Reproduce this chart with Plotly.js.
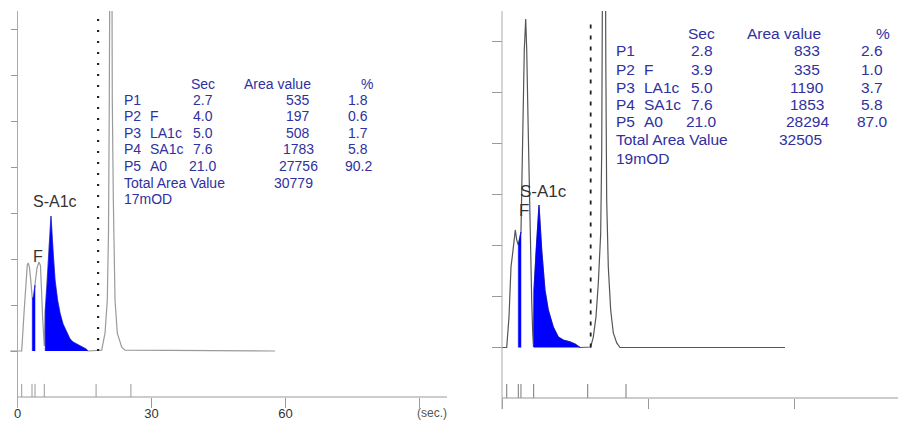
<!DOCTYPE html>
<html>
<head>
<meta charset="utf-8">
<script src="https://cdn.plot.ly/plotly-3.0.1.min.js"></script>
<style>html,body{margin:0;padding:0;background:#fff;}#chart{width:898px;height:421px;}</style>
</head>
<body>
<div id="chart"></div>
<script>
// ---------------- DATA ----------------
// Left chromatogram (time in sec, signal in mOD)
const leftTime   = [-1.68, 0.94, 1.46, 1.90, 2.19, 2.42, 2.69, 2.96, 3.31, 3.58, 3.92, 4.37, 4.82, 5.15, 5.64, 6.00,
                    6.20, 6.61, 7.05, 7.50, 7.95, 8.40, 8.96, 9.52, 10.19, 11.09, 11.76, 12.43, 13.33, 14.00, 14.67, 15.34, 15.79,
                    18.86, 19.60, 20.11, 20.38, 20.56, 20.96, 21.23, 21.46, 21.84, 22.35, 23.34, 24.08, 57.67];
const leftSignal = [0, 0, 1.65, 3.22, 3.74, 3.83, 3.61, 3.09, 2.30, 2.35, 2.87, 3.61, 3.87, 3.70, 1.43, 0.22,
                    1.70, 2.87, 4.39, 5.87, 4.39, 3.09, 2.22, 1.65, 1.17, 0.78, 0.52, 0.39, 0.30, 0.26, 0.17, 0.09, 0,
                    0.04, 0.78, 2.22, 5.13, 10.9, 30.0, 10.9, 6.57, 2.22, 0.78, 0.17, 0.04, 0];
const leftFilled  = [[3.31, 3.92], [6.20, 15.79]];
const leftMarkers = [0.94, 3.25, 3.92, 6.00, 17.6, 25.4];
const leftCutTime = 18.05;
const leftCutTop  = 14.74;

// Right chromatogram
const rightTime   = [-2.05, 0.97, 1.44, 1.85, 2.20, 2.53, 2.73, 3.02, 3.35, 3.90, 4.25, 4.58, 4.87, 5.08, 5.40, 5.75, 6.10, 6.31, 6.47,
                     6.57, 6.99, 7.60, 8.16, 8.83, 9.51, 10.54, 11.57, 12.60, 13.97, 15.00, 16.03,
                     18.22, 18.76, 19.31, 19.79, 20.28, 20.49, 20.65, 21.00, 21.33, 21.51, 21.84, 22.33, 22.87, 23.57, 24.25, 58.15];
const rightSignal = [0, 0, 1.20, 3.16, 3.71, 4.49, 4.61, 4.22, 4.02, 4.53, 9.04, 11.67, 12.88, 11.67, 8.41, 4.49, 1.86, 0.57, 0.02,
                     2.25, 3.82, 5.59, 3.82, 2.25, 1.47, 0.80, 0.41, 0.29, 0.22, 0.14, 0,
                     0.02, 0.41, 1.20, 2.53, 4.49, 7.75, 11.27, 30.0, 11.27, 5.78, 3.16, 1.47, 0.57, 0.18, 0, 0];
const rightFilled  = [[3.35, 3.90], [6.57, 16.03]];
const rightMarkers = [0.97, 3.35, 3.90, 6.51, 17.61, 25.48];
const rightCutTime = 18.22;
const rightCutTop  = 12.78;

// Tables
const peakIds   = ['P1', 'P2', 'P3', 'P4', 'P5'];
const peakNames = ['', 'F', 'LA1c', 'SA1c', 'A0'];
const leftSec   = [2.7, 4.0, 5.0, 7.6, 21.0];
const leftArea  = [535, 197, 508, 1783, 27756];
const leftPct   = [1.8, 0.6, 1.7, 5.8, 90.2];
const leftTotal = 30779;
const leftScale = '17mOD';
const rightSec   = [2.8, 3.9, 5.0, 7.6, 21.0];
const rightArea  = [833, 335, 1190, 1853, 28294];
const rightPct   = [2.6, 1.0, 3.7, 5.8, 87.0];
const rightTotal = 32505;
const rightScale = '19mOD';

// Axis ticks
const xTickVals  = [0, 30, 60, 90];
const xTickText  = ['0', '30', '60', ''];
const leftYTicks  = [0, 2, 4, 6, 8, 10, 12, 14];
const rightYTicks = [0, 2, 4, 6, 8, 10, 12];

// ---------------- LAYOUT GEOMETRY ----------------
const W = 898, H = 421;
const PX = x => x / W, PY = y => (H - y) / H;
const panels = [
  {xa: 'x',  ya: 'y',  x0: 17.5, sx: 4.465, base: 351,   sy: 23,   bottom: 397, top: 11, dom: [0, 449],   axEnd: 447, yLineEnd: 408,
   time: leftTime, sig: leftSignal, fills: leftFilled, markers: leftMarkers, cutT: leftCutTime, cutTop: leftCutTop,
   curveColor: '#9a9a9a', cutDash: '2px,9px', cutWidth: 2.2, markerColor: '#999', yticks: leftYTicks, yticklen: 7, showX: true,
   labels: {sa: [8.4, 6.48], f: [4.48, 4.09], size: 16}},
  {xa: 'x2', ya: 'y2', x0: 502, sx: 4.867, base: 347.5, sy: 25.5, bottom: 398, top: 11, dom: [490, 898], axEnd: 898, yLineEnd: 409,
   time: rightTime, sig: rightSignal, fills: rightFilled, markers: rightMarkers, cutT: rightCutTime, cutTop: rightCutTop,
   curveColor: '#555', cutDash: '4px,7px', cutWidth: 1.8, markerColor: '#777', yticks: rightYTicks, yticklen: 10, showX: false,
   labels: {sa: [8.53, 6.1], f: [4.52, 5.39], size: 17}}
];

const traces = [];
const shapes = [];
const annotations = [];
const layout = {
  width: W, height: H, margin: {l: 0, r: 0, t: 0, b: 0},
  paper_bgcolor: '#fff', plot_bgcolor: 'rgba(0,0,0,0)', showlegend: false,
  font: {family: 'Liberation Sans, Arial, sans-serif'}
};

panels.forEach((p, i) => {
  const sfx = i === 0 ? '' : '2';
  layout['xaxis' + sfx] = {
    domain: [PX(p.dom[0]), PX(p.dom[1])],
    range: [(p.dom[0] - p.x0) / p.sx, (p.dom[1] - p.x0) / p.sx],
    anchor: 'y' + sfx, showgrid: false, zeroline: false, showline: false,
    ticks: 'outside', ticklen: 10, tickwidth: 1, tickcolor: '#999',
    tickvals: xTickVals, ticktext: xTickText, showticklabels: p.showX, ticklabelstandoff: -6,
    tickfont: {size: 13, color: '#333', family: 'Liberation Sans, Arial, sans-serif'}, fixedrange: true
  };
  layout['yaxis' + sfx] = {
    domain: [PY(p.bottom), PY(p.top)],
    range: [(p.base - p.bottom) / p.sy, (p.base - p.top) / p.sy],
    anchor: 'free', position: PX(p.x0), side: 'left',
    showgrid: false, zeroline: false, showline: false, showticklabels: false,
    ticks: 'outside', ticklen: p.yticklen, tickwidth: 1, tickcolor: '#999', tickvals: p.yticks, fixedrange: true
  };
  // axis lines
  shapes.push({type: 'line', xref: 'paper', yref: 'paper', x0: PX(p.x0), x1: PX(p.x0), y0: PY(p.yLineEnd), y1: PY(p.top),
               line: {color: '#aaa', width: 1}});
  shapes.push({type: 'line', xref: 'paper', yref: 'paper', x0: PX(p.x0), x1: PX(p.axEnd), y0: PY(p.bottom), y1: PY(p.bottom),
               line: {color: '#999', width: 1}});

  // chromatogram curve
  traces.push({type: 'scatter', mode: 'lines', x: p.time, y: p.sig, xaxis: p.xa, yaxis: p.ya,
               line: {color: p.curveColor, width: 1.2}, hoverinfo: 'skip'});
  // blue integrated areas
  p.fills.forEach(([a, b]) => {
    const fx = [a], fy = [0];
    p.time.forEach((t, k) => { if (t >= a - 1e-9 && t <= b + 1e-9) { fx.push(t); fy.push(p.sig[k]); } });
    fx.push(b); fy.push(0);
    traces.push({type: 'scatter', mode: 'lines', x: fx, y: fy, xaxis: p.xa, yaxis: p.ya, fill: 'toself',
                 fillcolor: '#0000ff', line: {color: '#0000ff', width: 0.5}, hoverinfo: 'skip'});
  });
  // peak boundary markers
  const mx = [], my = [];
  p.markers.forEach(t => { mx.push(t, t, null); my.push(-2, -1.43, null); });
  traces.push({type: 'scatter', mode: 'lines', x: mx, y: my, xaxis: p.xa, yaxis: p.ya,
               line: {color: p.markerColor, width: 1}, hoverinfo: 'skip', cliponaxis: false});
  // cut line
  traces.push({type: 'scatter', mode: 'lines', x: [p.cutT, p.cutT], y: [0, p.cutTop], xaxis: p.xa, yaxis: p.ya,
               line: {color: '#222', width: p.cutWidth, dash: p.cutDash}, hoverinfo: 'skip'});
  // peak labels
  annotations.push({xref: p.xa, yref: p.ya, x: p.labels.sa[0], y: p.labels.sa[1], text: 'S-A1c', showarrow: false,
                    font: {size: p.labels.size, color: '#333'}, xanchor: 'center', yanchor: 'middle'});
  annotations.push({xref: p.xa, yref: p.ya, x: p.labels.f[0], y: p.labels.f[1], text: 'F', showarrow: false,
                    font: {size: p.labels.size, color: '#333'}, xanchor: 'center', yanchor: 'middle'});
});

// (sec.) label
annotations.push({xref: 'paper', yref: 'paper', x: PX(431.5), y: PY(413), text: '(sec.)', showarrow: false,
                  font: {size: 12, color: '#555'}, xanchor: 'center', yanchor: 'middle'});

// Tables
function table(cfg) {
  const blue = 'rgb(48,48,160)';
  const add = (text, x, y, anchor) => annotations.push({xref: 'paper', yref: 'paper', x: PX(x), y: PY(y), text: String(text),
      showarrow: false, xanchor: anchor, yanchor: 'middle', font: {size: cfg.size, color: blue}, borderpad: 0});
  add('Sec', cfg.secX, cfg.headY, 'center');
  add('Area value', cfg.areaHX, cfg.headY, 'center');
  add('%', cfg.pctHX, cfg.headY, 'center');
  cfg.ids.forEach((id, k) => {
    const y = cfg.rowY[k];
    add(id, cfg.idX, y, 'left');
    if (cfg.names[k]) add(cfg.names[k], cfg.nameX, y, 'left');
    add(cfg.sec[k].toFixed(1), cfg.secX, y, 'center');
    add(cfg.area[k], cfg.areaX, y, 'center');
    add(cfg.pct[k].toFixed(1), cfg.pctX, y, 'center');
  });
  add('Total Area Value', cfg.idX, cfg.rowY[5], 'left');
  add(cfg.total, cfg.totalX, cfg.rowY[5], 'center');
  add(cfg.scale, cfg.idX, cfg.rowY[6], 'left');
}
table({ids: peakIds, names: peakNames, sec: leftSec, area: leftArea, pct: leftPct, total: leftTotal, scale: leftScale,
       size: 14, headY: 84, rowY: [100, 116, 132.5, 149, 166, 182.5, 199],
       idX: 123, nameX: 149, secX: 202.5, areaHX: 277.5, areaX: 298, pctHX: 367, pctX: 358, totalX: 293});
table({ids: peakIds, names: peakNames, sec: rightSec, area: rightArea, pct: rightPct, total: rightTotal, scale: rightScale,
       size: 15.5, headY: 33, rowY: [51, 69, 87, 104.5, 122, 139.5, 158],
       idX: 615, nameX: 643, secX: 701.5, areaHX: 783.5, areaX: 807, pctHX: 883, pctX: 872, totalX: 800});

layout.shapes = shapes;
layout.annotations = annotations;
Plotly.newPlot('chart', traces, layout, {staticPlot: true, displayModeBar: false});
</script>
</body>
</html>
